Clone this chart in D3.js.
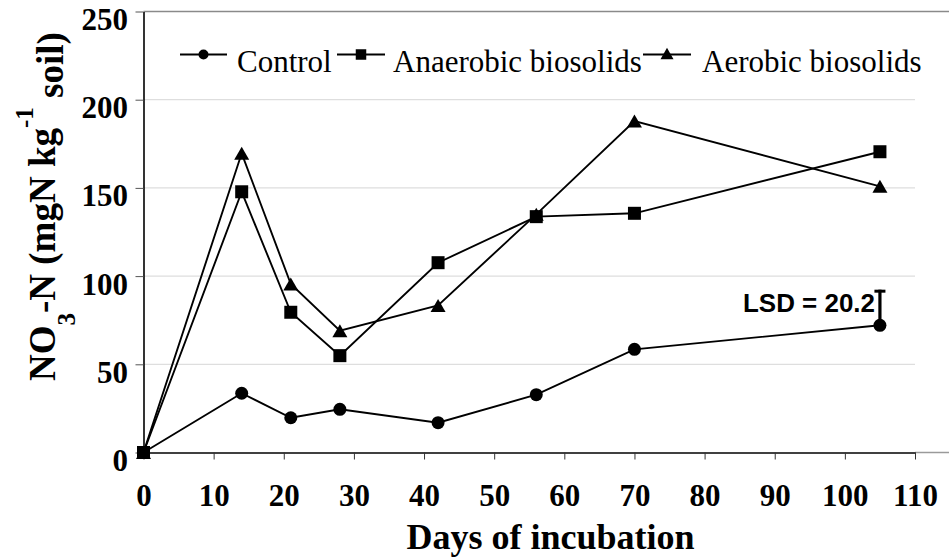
<!DOCTYPE html>
<html>
<head>
<meta charset="utf-8">
<script src="https://cdn.jsdelivr.net/npm/d3@7"></script>
<style>
  html, body { margin: 0; padding: 0; background: #fff; }
  svg { display: block; }
</style>
</head>
<body>
<svg id="chart" width="949" height="559"></svg>
<script>
// ---- data ----
const days = [0, 14, 21, 28, 42, 56, 70, 105];
const control = [0, 33.6, 19.7, 24.5, 16.9, 32.8, 58.5, 72.1];
const anaerobic = [0, 147.8, 79.5, 54.9, 107.6, 133.7, 135.6, 170.5];
const aerobic = [0, 169.6, 95.5, 69.0, 83.4, 135.0, 187.9, 150.9];
const seriesNames = ["Control", "Anaerobic biosolids", "Aerobic biosolids"];
const xTicks = [0, 10, 20, 30, 40, 50, 60, 70, 80, 90, 100, 110];
const yTicks = [0, 50, 100, 150, 200, 250];
const gridValues = [50, 100, 150, 200];
const lsdValue = 20.2;
const lsdDay = 105;
const lsdBase = 72.1;

// ---- layout ----
const svg = d3.select("#chart");
const x = d3.scaleLinear().domain([0, 110]).range([143.5, 915]);
const y = d3.scaleLinear().domain([0, 250]).range([452.5, 11.5]);

// bbox-centred triangle symbol
const triUp = {
  draw(ctx, size) {
    const a = Math.sqrt(size * 4 / Math.sqrt(3));
    const h = a * Math.sqrt(3) / 2;
    ctx.moveTo(0, -h / 2);
    ctx.lineTo(a / 2, h / 2);
    ctx.lineTo(-a / 2, h / 2);
    ctx.closePath();
  }
};
const symbolTypes = [d3.symbolCircle, d3.symbolSquare, triUp];
const symbolSizes = [Math.PI * 6.5 * 6.5, 13 * 13, Math.sqrt(3) / 4 * 15 * 15];
const legendSizes = [Math.PI * 5 * 5, 10.5 * 10.5, Math.sqrt(3) / 4 * 13 * 13];

// gridlines
svg.append("g").selectAll("line").data(gridValues).join("line")
  .attr("x1", x(0)).attr("x2", x(110))
  .attr("y1", d => y(d)).attr("y2", d => y(d))
  .attr("stroke", "#dedede").attr("stroke-width", 1.3);

// frame extensions (grey)
svg.append("line").attr("x1", x(0)).attr("x2", 949).attr("y1", y(250)).attr("y2", y(250))
  .attr("stroke", "#8a8a8a").attr("stroke-width", 1.5);
svg.append("line").attr("x1", x(110)).attr("x2", 949).attr("y1", y(0)).attr("y2", y(0))
  .attr("stroke", "#9a9a9a").attr("stroke-width", 1.5);

// axes
const serif = "'Liberation Serif', 'Times New Roman', serif";
const xAxis = svg.append("g").attr("transform", `translate(0,${y(0)})`)
  .call(d3.axisBottom(x).tickValues(xTicks).tickSize(7).tickSizeOuter(0).tickFormat(d3.format("d")));
xAxis.attr("font-family", serif);
xAxis.select(".domain").attr("stroke", "#000").attr("stroke-width", 1.6);
xAxis.selectAll(".tick line").attr("stroke", "#333").attr("stroke-width", 1);
xAxis.selectAll(".tick text").attr("y", 53.5).attr("dy", 0)
  .attr("font-family", serif).attr("font-size", 31).attr("font-weight", "bold").attr("fill", "#000");

const yAxis = svg.append("g").attr("transform", `translate(${x(0)},0)`)
  .call(d3.axisLeft(y).tickValues(yTicks).tickSize(8).tickSizeOuter(0).tickFormat(d3.format("d")));
yAxis.attr("font-family", serif);
yAxis.select(".domain").attr("stroke", "#000").attr("stroke-width", 1.6);
yAxis.selectAll(".tick line").attr("stroke", "#555").attr("stroke-width", 1);
yAxis.selectAll(".tick text").attr("x", -15.5).attr("y", 18).attr("dy", 0)
  .attr("font-family", serif).attr("font-size", 31).attr("font-weight", "bold").attr("fill", "#000");

// series
const allSeries = [control, anaerobic, aerobic];
const line = d3.line().x((d, i) => x(days[i])).y(d => y(d));
allSeries.forEach((vals) => {
  svg.append("path").datum(vals).attr("d", line)
    .attr("fill", "none").attr("stroke", "#000").attr("stroke-width", 1.9);
});
allSeries.forEach((vals, si) => {
  svg.append("g").selectAll("path").data(vals).join("path")
    .attr("transform", (d, i) => `translate(${x(days[i])},${y(d)})`)
    .attr("d", d3.symbol().type(symbolTypes[si]).size(symbolSizes[si]))
    .attr("fill", "#000");
});

// LSD bar
const lx = x(lsdDay);
svg.append("line").attr("x1", lx).attr("x2", lx)
  .attr("y1", y(lsdBase)).attr("y2", y(lsdBase + lsdValue))
  .attr("stroke", "#000").attr("stroke-width", 3.2);
svg.append("line").attr("x1", lx - 5.5).attr("x2", lx + 5.5)
  .attr("y1", y(lsdBase + lsdValue) + 1.5).attr("y2", y(lsdBase + lsdValue) + 1.5)
  .attr("stroke", "#000").attr("stroke-width", 3);
svg.append("text").attr("x", 875).attr("y", 312).attr("text-anchor", "end")
  .attr("font-family", "'Liberation Sans', Arial, sans-serif").attr("font-weight", "bold")
  .attr("font-size", 26).attr("textLength", 132).attr("lengthAdjust", "spacingAndGlyphs")
  .text(`LSD = ${lsdValue}`);

// legend
const legendItems = [
  { lx1: 180, lx2: 227, tx: 237 },
  { lx1: 337, lx2: 385, tx: 393 },
  { lx1: 643, lx2: 691, tx: 702 }
];
const legY = 54.5;
legendItems.forEach((it, i) => {
  svg.append("line").attr("x1", it.lx1).attr("x2", it.lx2).attr("y1", legY).attr("y2", legY)
    .attr("stroke", "#000").attr("stroke-width", 1.8);
  svg.append("path").attr("transform", `translate(${(it.lx1 + it.lx2) / 2},${legY - (i === 2 ? 1 : 0)})`)
    .attr("d", d3.symbol().type(symbolTypes[i]).size(legendSizes[i])).attr("fill", "#000");
  svg.append("text").attr("x", it.tx).attr("y", 72).attr("font-family", serif)
    .attr("font-size", 31).attr("fill", "#000").text(seriesNames[i]);
});

// axis titles
svg.append("text").attr("x", 550.5).attr("y", 549).attr("text-anchor", "middle")
  .attr("font-family", serif).attr("font-weight", "bold").attr("font-size", 36)
  .text("Days of incubation");

const yt = svg.append("text").attr("transform", "translate(55,381) rotate(-90)")
  .attr("font-family", serif).attr("font-weight", "bold").attr("font-size", 37);
yt.append("tspan").text("NO");
yt.append("tspan").attr("font-size", 25).attr("dy", 20).text("3");
yt.append("tspan").attr("dy", -20).text("-N (mgN kg");
yt.append("tspan").attr("font-size", 25).attr("dy", -22).text("-1");
yt.append("tspan").attr("dy", 30).text(" soil)");
</script>
</body>
</html>
